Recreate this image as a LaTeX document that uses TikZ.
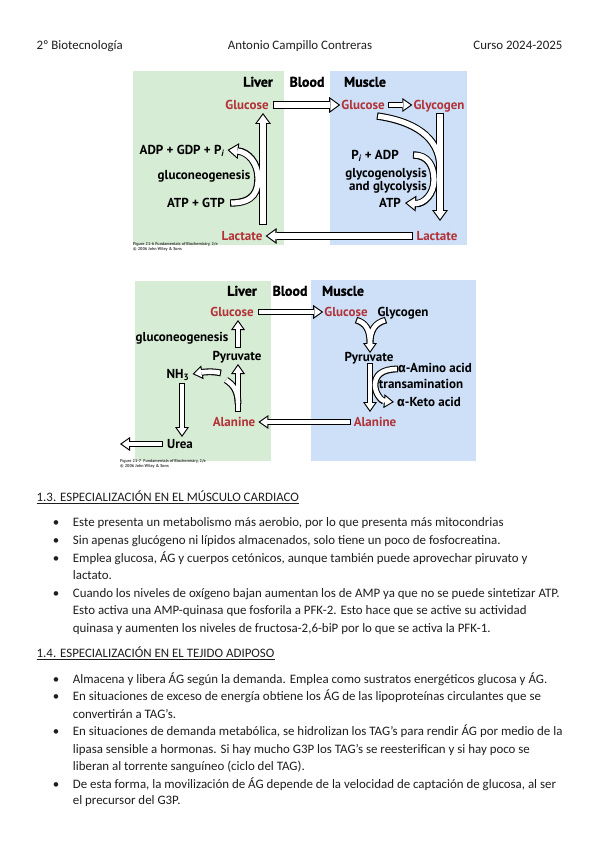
\documentclass[tikz,border=0pt]{standalone}
\usepackage{fontspec}
\setmainfont{Carlito}
\newfontfamily\figfont{PT Sans}
\newfontfamily\hdrfont[FakeBold=1.2]{PT Sans Bold}
\newfontfamily\grkfont{Fira Sans}
\usetikzlibrary{arrows.meta}
\definecolor{figred}{RGB}{178,50,56}
\definecolor{livgreen}{RGB}{214,236,212}
\definecolor{musblue}{RGB}{205,224,247}
\definecolor{bodytext}{RGB}{30,30,30}
\begin{document}
\begin{tikzpicture}[x=1pt,y=-1pt,
  every node/.style={inner sep=0pt},
  body/.style={anchor=base west, text=bodytext, font=\fontsize{12.9}{15}\selectfont},
  bul/.style={anchor=base, text=bodytext, font=\fontsize{12.9}{15}\selectfont},
  lab/.style={font=\figfont\bfseries\fontsize{13}{13}\selectfont, text height=9pt, text depth=0pt},
  rlab/.style={lab, text=figred},
  hdr/.style={font=\hdrfont\fontsize{14}{16}\selectfont, text height=9.5pt, text depth=0pt},
  figcap/.style={anchor=base west, font=\figfont\bfseries\fontsize{4.2}{4.6}\selectfont, text=black!75, align=left},
  bao/.style={line width=7.4pt, draw=black, -{Triangle[width=16pt,length=11pt,line width=0pt]}},
  bai/.style={line width=5.2pt, draw=white, shorten <=1.1pt, shorten >=1.87pt, -{Triangle[width=11.7pt,length=8pt,line width=0pt]}},
  bno/.style={line width=7.4pt, draw=black},
  bni/.style={line width=5.2pt, draw=white, shorten <=1.1pt},
  bbo/.style={line width=6.8pt, draw=black, -{Triangle[width=14pt,length=10pt,line width=0pt]}},
  bbi/.style={line width=4.6pt, draw=white, shorten <=1.1pt, shorten >=1.9pt, -{Triangle[width=9.8pt,length=7pt,line width=0pt]}},
  bbno/.style={line width=6.8pt, draw=black},
  bbni/.style={line width=4.6pt, draw=white, shorten <=1.1pt},
]
\useasboundingbox (0,0) rectangle (599,848);
\fill[white] (0,0) rectangle (599,848);

% ---------- page header ----------
\node[body] (h1) at (36.3,49.5) {2º Biotecnología};
\node[body, anchor=base] (h2) at (300,49.5) {Antonio Campillo Contreras};
\node[body, anchor=base east] (h3) at (562.6,49.5) {Curso 2024-2025};

% ---------- figure 1 ----------
\fill[livgreen] (133,71) rectangle (284,245);
\fill[musblue] (330,71) rectangle (467,245);
\node[hdr] (liver1) at (258,82) {Liver};
\node[hdr] (blood1) at (307,82) {Blood};
\node[hdr] (muscle1) at (365,82) {Muscle};
\node[rlab] (glcL1) at (247,105) {Glucose};
\node[rlab] (glcM1) at (363,105) {Glucose};
\node[rlab] (gly1) at (439,105) {Glycogen};
\node[rlab] (lacL1) at (242,236) {Lactate};
\node[rlab] (lacM1) at (437,236) {Lactate};
\node[lab] (adp1) at (182,150) {ADP + GDP + P\textsubscript{\itshape i}};
\node[lab] (gng1) at (204,175) {gluconeogenesis};
\node[lab] (atp1) at (196,203) {ATP + GTP};
\node[lab] (piadp1) at (375,155) {P\textsubscript{\itshape i} + ADP};
\node[lab] (glyco1) at (386,173) {glycogenolysis};
\node[lab] (glyco1b) at (388,186) {and glycolysis};
\node[lab] (atpm1) at (390,203) {ATP};
\node[figcap] (cap1) at (133,250.5) {Figure 21-6 Fundamentals of Biochemistry, 2/e\\© 2006 John Wiley \& Sons};

\coordinate (v1s) at (263,225);
\coordinate (v1e) at (263,113);
\coordinate (m1s) at (440,113);
\coordinate (m1e) at (440,221);

\draw[bao] ([xshift=4pt]glcL1.east) -- ([xshift=-1pt]glcM1.west);
\draw[bai] ([xshift=4pt]glcL1.east) -- ([xshift=-1pt]glcM1.west);
\draw[bbo] ([xshift=3pt]glcM1.east) -- ([xshift=-1pt]gly1.west);
\draw[bbi] ([xshift=3pt]glcM1.east) -- ([xshift=-1pt]gly1.west);
\draw[bao] ([xshift=-3pt]lacM1.west) -- ([xshift=3pt]lacL1.east);
\draw[bai] ([xshift=-3pt]lacM1.west) -- ([xshift=3pt]lacL1.east);

% liver gluconeogenesis
\draw[bao] (v1s) -- (v1e);
\draw[bao] ([xshift=5pt]atp1.east) .. controls (255,203) and (258,190) .. (258,178) .. controls (258,163) and (248,152) .. ([xshift=3pt]adp1.east);
\draw[bai] (v1s) -- (v1e);
\draw[bai] ([xshift=5pt]atp1.east) .. controls (255,203) and (258,190) .. (258,178) .. controls (258,163) and (248,152) .. ([xshift=3pt]adp1.east);

% muscle glycolysis
\draw[bao] (m1s) -- (m1e);
\draw[bno] ([shift={(14,11)}]glcM1.center) .. controls (412,121) and (440,136) .. (440,168);
\draw[bao] (413,155) .. controls (428,155) and (434,166) .. (434,180) .. controls (434,194) and (424,204) .. ([xshift=4pt]atpm1.east);
\draw[bai] (m1s) -- (m1e);
\draw[bni] ([shift={(14,11)}]glcM1.center) .. controls (412,121) and (440,136) .. (440,168);
\draw[bai] (413,155) .. controls (428,155) and (434,166) .. (434,180) .. controls (434,194) and (424,204) .. ([xshift=4pt]atpm1.east);

% ---------- figure 2 ----------
\fill[livgreen] (135,281) rectangle (271,461);
\fill[musblue] (311,280) rectangle (476,461);
\node[hdr] (liver2) at (242,291) {Liver};
\node[hdr] (blood2) at (290,291) {Blood};
\node[hdr] (muscle2) at (343,291) {Muscle};
\node[rlab] (glcL2) at (232,312) {Glucose};
\node[rlab] (glcM2) at (346,312) {Glucose};
\node[lab] (gly2) at (403,312) {Glycogen};
\node[lab] (gng2) at (182,337) {gluconeogenesis};
\node[lab] (pyrL2) at (237,356) {Pyruvate};
\node[lab] (nh3) at (178,374) {NH\textsubscript{3}};
\node[rlab] (alaL2) at (234,422) {Alanine};
\node[lab] (urea) at (180,444) {Urea};
\node[rlab] (alaM2) at (375,422) {Alanine};
\node[lab] (pyrM2) at (369,357) {Pyruvate};
\node[lab] (amino) at (435,368) {{\grkfont α}-Amino acid};
\node[lab] (transam) at (421,384) {transamination};
\node[lab] (keto) at (429,402) {{\grkfont α}-Keto acid};
\node[figcap] (cap2) at (120,467.5) {Figure 21-7\ \ Fundamentals of Biochemistry, 2/e\\© 2006 John Wiley \& Sons};

\coordinate (p2s) at (238,348);
\coordinate (p2e) at (238,320);
\coordinate (a2s) at (238,412);
\coordinate (a2e) at (238,364);
\coordinate (n2s) at (221,373);
\coordinate (u2s) at (182,383);
\coordinate (u2e) at (182,437);
\coordinate (o2e) at (120,444);
\coordinate (y2l) at (356,320);
\coordinate (y2r) at (386,320);
\coordinate (y2e) at (370,353);
\coordinate (pm2s) at (370,363);
\coordinate (pm2e) at (370,412);
\coordinate (tr2s) at (398,369);

\draw[bbo] ([xshift=4pt]glcL2.east) -- ([xshift=-1pt]glcM2.west);
\draw[bbi] ([xshift=4pt]glcL2.east) -- ([xshift=-1pt]glcM2.west);
\draw[bbo] (p2s) -- (p2e);
\draw[bbi] (p2s) -- (p2e);
\draw[bbo] ([xshift=-3pt]alaM2.west) -- ([xshift=3pt]alaL2.east);
\draw[bbi] ([xshift=-3pt]alaM2.west) -- ([xshift=3pt]alaL2.east);

% alanine -> pyruvate with branch
\draw[bbo] (a2s) -- (a2e);
\draw[bbno] (238,404) .. controls (238,392) and (234,385) .. (226,380);
\draw[bbi] (a2s) -- (a2e);
\draw[bbni] (238,404) .. controls (238,392) and (234,385) .. (226,380);
\draw[bbo] (n2s) .. controls (212,371) and (204,372) .. ([xshift=3pt]nh3.east);
\draw[bbi] (n2s) .. controls (212,371) and (204,372) .. ([xshift=3pt]nh3.east);
\draw[bbo] (u2s) -- (u2e);
\draw[bbi] (u2s) -- (u2e);
\draw[bbo] ([xshift=-4pt]urea.west) -- (o2e);
\draw[bbi] ([xshift=-4pt]urea.west) -- (o2e);

% muscle Y
\draw[bbo] (y2l) .. controls (366,323) and (370,330) .. (y2e);
\draw[bbno] (y2r) .. controls (375,323) and (370,330) .. (370,344);
\draw[bbi] (y2l) .. controls (366,323) and (370,330) .. (y2e);
\draw[bbni] (y2r) .. controls (375,323) and (370,330) .. (370,344);

% transamination
\draw[bbo] (pm2s) -- (pm2e);
\draw[bbo] (tr2s) .. controls (381,369) and (375,376) .. (375,385) .. controls (375,394) and (382,401) .. ([xshift=-3pt]keto.west);
\draw[bbi] (pm2s) -- (pm2e);
\draw[bbi] (tr2s) .. controls (381,369) and (375,376) .. (375,385) .. controls (375,394) and (382,401) .. ([xshift=-3pt]keto.west);

% ---------- text ----------
\node[body] (s13) at (36.5,501.5) {1.3. ESPECIALIZACIÓN EN EL MÚSCULO CARDIACO};
\draw[bodytext, line width=0.6pt] ([yshift=-2pt]s13.base west) -- ([yshift=-2pt]s13.base east);
\node[bul] (d1) at (56,526.5) {•};
\node[body] (l1) at (72.7,526.5) {Este presenta un metabolismo más aerobio, por lo que presenta más mitocondrias};
\node[bul] (d2) at (56,544.8) {•};
\node[body] (l2) at (72.7,544.8) {Sin apenas glucógeno ni lípidos almacenados, solo tiene un poco de fosfocreatina.};
\node[bul] (d3) at (56,562.5) {•};
\node[body] (l3) at (72.7,562.5) {Emplea glucosa, ÁG y cuerpos cetónicos, aunque también puede aprovechar piruvato y};
\node[body] (l3b) at (72.7,579.8) {lactato.};
\node[bul] (d4) at (56,597.5) {•};
\node[body] (l4) at (72.7,597.5) {Cuando los niveles de oxígeno bajan aumentan los de AMP ya que no se puede sintetizar ATP.};
\node[body] (l4b) at (72.7,614.8) {Esto activa una AMP-quinasa que fosforila a PFK-2. Esto hace que se active su actividad};
\node[body] (l4c) at (72.7,632.2) {quinasa y aumenten los niveles de fructosa-2,6-biP por lo que se activa la PFK-1.};

\node[body] (s14) at (36.5,657.2) {1.4. ESPECIALIZACIÓN EN EL TEJIDO ADIPOSO};
\draw[bodytext, line width=0.6pt] ([yshift=-2pt]s14.base west) -- ([yshift=-2pt]s14.base east);
\node[bul] (e1) at (56,683.2) {•};
\node[body] (k1) at (72.7,683.2) {Almacena y libera ÁG según la demanda. Emplea como sustratos energéticos glucosa y ÁG.};
\node[bul] (e2) at (56,700.8) {•};
\node[body] (k2) at (72.7,700.8) {En situaciones de exceso de energía obtiene los ÁG de las lipoproteínas circulantes que se};
\node[body] (k2b) at (72.7,718.2) {convertirán a TAG’s.};
\node[bul] (e3) at (56,735.8) {•};
\node[body] (k3) at (72.7,735.8) {En situaciones de demanda metabólica, se hidrolizan los TAG’s para rendir ÁG por medio de la};
\node[body] (k3b) at (72.7,753.2) {lipasa sensible a hormonas. Si hay mucho G3P los TAG’s se reesterifican y si hay poco se};
\node[body] (k3c) at (72.7,770.8) {liberan al torrente sanguíneo (ciclo del TAG).};
\node[bul] (e4) at (56,788.2) {•};
\node[body] (k4) at (72.7,788.2) {De esta forma, la movilización de ÁG depende de la velocidad de captación de glucosa, al ser};
\node[body] (k4b) at (72.7,804.8) {el precursor del G3P.};
\end{tikzpicture}
\end{document}
